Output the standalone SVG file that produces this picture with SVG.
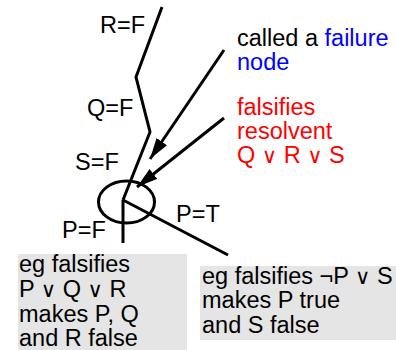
<svg xmlns="http://www.w3.org/2000/svg" width="396" height="350" viewBox="0 0 396 350">
<defs>
<style>
text{font-family:"Liberation Sans",Arial,sans-serif;font-size:23.5px;fill:#000}
.or{font-family:"DejaVu Sans",sans-serif;font-size:21px}
.ln{fill:none;stroke:#000;stroke-width:3}
.red{fill:#ff0000}
.blue{fill:#0000ff}
.box{fill:#e5e5e5}
</style>
<marker id="ah" viewBox="0 0 10 6" refX="10" refY="3" markerWidth="7" markerHeight="4.2" orient="auto" markerUnits="strokeWidth">
<path d="M0,0 L10,3 L0,6 z" fill="#000"/>
</marker>
</defs>
<g id="connectors">
<polyline class="ln" points="162,7 136,77 150,132 123,200"/>
<line class="ln" x1="123" y1="200" x2="123" y2="243"/>
<line class="ln" x1="123" y1="200" x2="228" y2="255"/>
<line class="ln" x1="224" y1="50" x2="150" y2="159" marker-end="url(#ah)"/>
<line class="ln" x1="224" y1="118" x2="137" y2="187" marker-end="url(#ah)"/>
</g>
<g id="failure-node">
<ellipse class="ln" cx="126.5" cy="202" rx="28" ry="21"/>
</g>
<g id="labels">
<text x="100" y="33">R=F</text>
<text x="87" y="116">Q=F</text>
<text x="75" y="170">S=F</text>
<text x="62" y="238">P=F</text>
<text x="176" y="222">P=T</text>
</g>
<g id="note-failure">
<text x="237" y="46">called a <tspan class="blue">failure</tspan></text>
<text x="237" y="70" class="blue">node</text>
</g>
<g id="note-resolvent">
<text x="237" y="115" class="red">falsifies</text>
<text x="237" y="139" class="red">resolvent</text>
<text x="237" y="163" class="red">Q <tspan class="or">∨</tspan> R <tspan class="or">∨</tspan> S</text>
</g>
<g id="box-left">
<rect class="box" x="18" y="254" width="169" height="96"/>
<text x="19" y="272">eg falsifies</text>
<text x="19" y="297">P <tspan class="or">∨</tspan> Q <tspan class="or">∨</tspan> R</text>
<text x="19" y="322">makes P, Q</text>
<text x="19" y="346">and R false</text>
</g>
<g id="box-right">
<rect class="box" x="200" y="266" width="196" height="74"/>
<text x="202" y="284">eg falsifies ¬P <tspan class="or">∨</tspan> S</text>
<text x="202" y="308">makes P true</text>
<text x="202" y="333">and S false</text>
</g>
</svg>
